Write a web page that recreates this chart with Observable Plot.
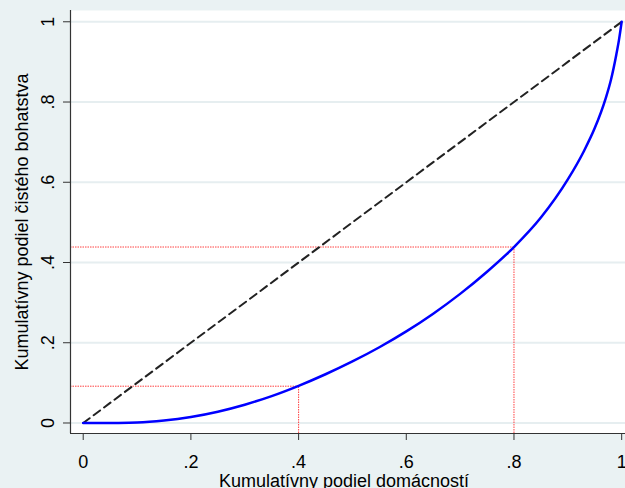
<!DOCTYPE html>
<html>
<head>
<meta charset="utf-8">
<script src="https://cdn.jsdelivr.net/npm/d3@7"></script>
<script src="https://cdn.jsdelivr.net/npm/@observablehq/plot@0.6"></script>
<style>
  html, body { margin: 0; padding: 0; background: #eaf2f3; }
  #chart { width: 625px; height: 488px; overflow: hidden; }
</style>
</head>
<body>
<div id="chart"></div>
<script>
// Lorenz curve (cumulative share of households vs. cumulative share of net wealth)
const shareHouseholds = [0, 0.03, 0.065, 0.1, 0.15, 0.2, 0.25, 0.3, 0.35, 0.4, 0.45, 0.5, 0.55, 0.6, 0.65, 0.7, 0.75, 0.8, 0.85, 0.9, 0.93, 0.95, 0.97, 0.98, 0.99, 0.995, 1];
const shareWealth     = [0, 0, 0.0002, 0.001, 0.006, 0.015, 0.0282, 0.0456, 0.067, 0.0926, 0.1215, 0.1534, 0.1888, 0.2283, 0.2724, 0.3218, 0.377, 0.4386, 0.512, 0.607, 0.678, 0.735, 0.808, 0.855, 0.918, 0.955, 1];

// Line of equality
const equality = [0, 1];

// Reference points marked with dotted red lines
const refX = [0.4, 0.8];
const refY = [0.0917, 0.4386];

// Ticks
const xTicks = [0, 0.2, 0.4, 0.6, 0.8, 1];
const xTickLabels = ["0", ".2", ".4", ".6", ".8", "1"];
const yTicks = [0, 0.2, 0.4, 0.6, 0.8, 1];
const yTickLabels = ["0", ".2", ".4", ".6", ".8", "1"];

const xTitle = "Kumulatívny podiel domácností";
const yTitle = "Kumulatívny podiel čistého bohatstva";

// Scale domains (plot region padding as in the reference)
const xMin = -0.0236, xMax = 1.0071;
const yMin = -0.0262, yMax = 1.0281;

const curve = shareHouseholds.map((x, i) => ({x, y: shareWealth[i]}));
const refs = refX.map((x, i) => ({x, y: refY[i]}));

const chart = Plot.plot({
  width: 625,
  height: 488,
  marginLeft: 70,
  marginRight: 0,
  marginTop: 10,
  marginBottom: 55,
  x: {domain: [xMin, xMax]},
  y: {domain: [yMin, yMax]},
  style: {
    background: "#eaf2f3",
    fontFamily: "'Liberation Sans', Arial, sans-serif",
    fontSize: "18px",
    color: "#000",
    overflow: "hidden"
  },
  marks: [
    Plot.frame({fill: "white", stroke: null}),
    Plot.ruleY(yTicks, {stroke: "#e6eef0", strokeWidth: 2}),
    Plot.ruleY(refs, {y: "y", x1: xMin, x2: "x", stroke: "#ff2020", strokeWidth: 1, strokeDasharray: "1.5,1", strokeOpacity: 0.85}),
    Plot.ruleX(refs, {x: "x", y1: yMin, y2: "y", stroke: "#ff2020", strokeWidth: 1, strokeDasharray: "1.5,1", strokeOpacity: 0.85}),
    Plot.line(equality, {x: d => d, y: d => d, stroke: "#222", strokeWidth: 2, strokeDasharray: "8,5"}),
    Plot.line(curve, {x: "x", y: "y", stroke: "#0000ff", strokeWidth: 2.5, curve: "monotone-x"}),
    Plot.ruleX([xMin], {stroke: "#333", strokeWidth: 1.2}),
    Plot.ruleY([yMin], {stroke: "#333", strokeWidth: 1.2}),
    Plot.axisX({
      ticks: xTicks,
      tickFormat: d => xTickLabels[xTicks.indexOf(d)],
      tickSize: 7,
      tickPadding: 15,
      fontSize: 18,
      stroke: "#333",
      label: null
    }),
    Plot.axisY({
      ticks: yTicks,
      tickFormat: d => yTickLabels[yTicks.indexOf(d)],
      tickSize: 7,
      tickPadding: 9.5,
      tickRotate: -90,
      fontSize: 18,
      stroke: "#333",
      label: null
    }),
    Plot.text([xTitle], {text: d => d, frameAnchor: "bottom", dy: 53, dx: -4, lineAnchor: "bottom", fontSize: 18, fill: "#000"}),
    Plot.text([yTitle], {text: d => d, frameAnchor: "left", dx: -43, rotate: -90, textAnchor: "middle", lineAnchor: "bottom", fontSize: 18, fill: "#000"})
  ]
});

document.getElementById("chart").appendChild(chart);
</script>
</body>
</html>
